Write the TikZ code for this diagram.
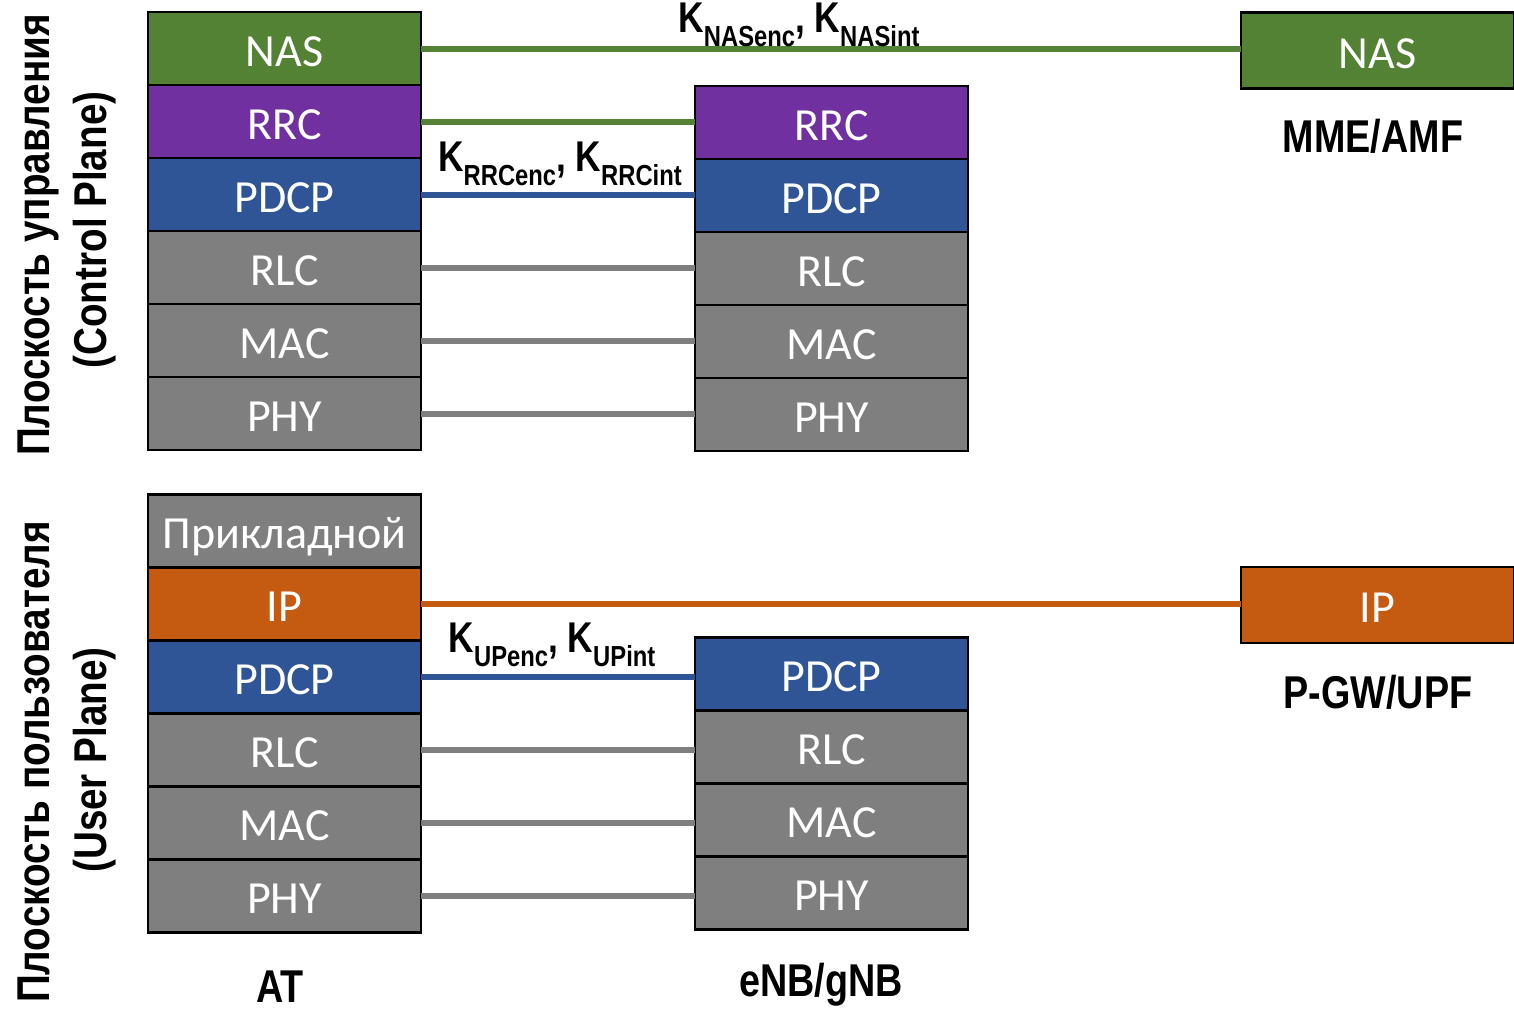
\documentclass[tikz,border=0pt]{standalone}
\usepackage{fontspec}
\setmainfont{Carlito}
\newfontfamily\planefont[FakeStretch=0.84]{Liberation Sans}
\newfontfamily\narrowfont[FakeStretch=0.82]{Liberation Sans}
\usepackage{xcolor}
\usepackage{tikz}
\usetikzlibrary{positioning}
\definecolor{nasgreen}{HTML}{548235}
\definecolor{rrcpurple}{HTML}{7030A0}
\definecolor{pdcpblue}{HTML}{2F5597}
\definecolor{layergray}{HTML}{7F7F7F}
\definecolor{iporange}{HTML}{C55A11}
\newcommand{\keysub}[1]{\raisebox{-0.33em}{\fontsize{14.5}{14.5}\selectfont #1}}
\newcommand{\keypair}[2]{K\keysub{#1}, K\keysub{#2}}

\begin{document}
\begin{tikzpicture}[x=0.5pt,y=-0.5pt,
        layer/.style={draw=black,line width=1.2pt,minimum width=136.5pt,
            minimum height=36.5pt,inner sep=0pt,outer sep=0pt,text=white,
            text height=20pt,text depth=2.2pt,
            font=\fontsize{23}{23}\selectfont},
        link/.style={line width=3pt},
        keylabel/.style={inner sep=0pt,font=\narrowfont\bfseries\fontsize{21.5}{21.5}\selectfont},
        entity/.style={inner sep=0pt,font=\narrowfont\bfseries\fontsize{23}{23}\selectfont},
        planelabel/.style={inner sep=0pt,rotate=90,anchor=base,
            font=\planefont\bfseries\fontsize{23}{23}\selectfont}
        ]
        \path[fill=white] (0,0) rectangle (1514,1009);
        \useasboundingbox (0,0) rectangle (1514,1009);
        % Control plane
        \node[planelabel] (cp-name) at (49,235) {Плоскость управления};
        \node[planelabel] (cp-en) at (106,230) {(Control Plane)};
        % AT stack
        \node[layer,fill=nasgreen] (at-nas) at (284.5,48.5) {NAS};
        \node[layer,fill=rrcpurple,below=0pt of at-nas] (at-rrc) {RRC};
        \node[layer,fill=pdcpblue,below=0pt of at-rrc] (at-pdcp) {PDCP};
        \node[layer,fill=layergray,below=0pt of at-pdcp] (at-rlc) {RLC};
        \node[layer,fill=layergray,below=0pt of at-rlc] (at-mac) {MAC};
        \node[layer,fill=layergray,below=0pt of at-mac] (at-phy) {PHY};
        % eNB/gNB stack
        \node[layer,fill=rrcpurple] (bs-rrc) at (831.5,122.5) {RRC};
        \node[layer,fill=pdcpblue,below=0pt of bs-rrc] (bs-pdcp) {PDCP};
        \node[layer,fill=layergray,below=0pt of bs-pdcp] (bs-rlc) {RLC};
        \node[layer,fill=layergray,below=0pt of bs-rlc] (bs-mac) {MAC};
        \node[layer,fill=layergray,below=0pt of bs-mac] (bs-phy) {PHY};
        % core side
        \node[layer,fill=nasgreen,minimum height=38pt] (mme-nas) at (1377.5,50.5) {NAS};
        \node[entity,anchor=base] (mme) at (1373,152) {MME/AMF};
        % links
        \draw[link,nasgreen] (at-nas.east) -- (at-nas.east -| mme-nas.west);
        \draw[link,nasgreen] (at-rrc.east) -- (at-rrc.east -| bs-rrc.west);
        \draw[link,pdcpblue] (at-pdcp.east) -- (at-pdcp.east -| bs-pdcp.west);
        \draw[link,layergray] (at-rlc.east) -- (at-rlc.east -| bs-rlc.west);
        \draw[link,layergray] (at-mac.east) -- (at-mac.east -| bs-mac.west);
        \draw[link,layergray] (at-phy.east) -- (at-phy.east -| bs-phy.west);
        \node[keylabel,anchor=base] (k-nas) at (799,32) {\keypair{NASenc}{NASint}};
        \node[keylabel,anchor=base] (k-rrc) at (560,171) {\keypair{RRCenc}{RRCint}};

        % User plane
        \node[planelabel] (up-name) at (49,762) {Плоскость пользователя};
        \node[planelabel] (up-en) at (106,760) {(User Plane)};
        % AT stack
        \node[layer,fill=layergray] (at-app) at (284.5,531) {Прикладной};
        \node[layer,fill=iporange,below=0pt of at-app] (at-ip) {IP};
        \node[layer,fill=pdcpblue,below=0pt of at-ip] (at-updcp) {PDCP};
        \node[layer,fill=layergray,below=0pt of at-updcp] (at-urlc) {RLC};
        \node[layer,fill=layergray,below=0pt of at-urlc] (at-umac) {MAC};
        \node[layer,fill=layergray,below=0pt of at-umac] (at-uphy) {PHY};
        % eNB/gNB stack
        \node[layer,fill=pdcpblue] (bs-updcp) at (831.5,674) {PDCP};
        \node[layer,fill=layergray,below=0pt of bs-updcp] (bs-urlc) {RLC};
        \node[layer,fill=layergray,below=0pt of bs-urlc] (bs-umac) {MAC};
        \node[layer,fill=layergray,below=0pt of bs-umac] (bs-uphy) {PHY};
        % core side
        \node[layer,fill=iporange,minimum height=38pt] (gw-ip) at (1377.5,605) {IP};
        \node[entity,anchor=base] (gw) at (1378,708) {P-GW/UPF};
        % links
        \draw[link,iporange] (at-ip.east) -- (at-ip.east -| gw-ip.west);
        \draw[link,pdcpblue] (at-updcp.east) -- (at-updcp.east -| bs-updcp.west);
        \draw[link,layergray] (at-urlc.east) -- (at-urlc.east -| bs-urlc.west);
        \draw[link,layergray] (at-umac.east) -- (at-umac.east -| bs-umac.west);
        \draw[link,layergray] (at-uphy.east) -- (at-uphy.east -| bs-uphy.west);
        \node[keylabel,anchor=base] (k-up) at (552,652) {\keypair{UPenc}{UPint}};

        % node names
        \node[entity,anchor=base] (at) at (280,1002) {AT};
        \node[entity,anchor=base] (enb) at (821,996) {eNB/gNB};
\end{tikzpicture}
\end{document}
